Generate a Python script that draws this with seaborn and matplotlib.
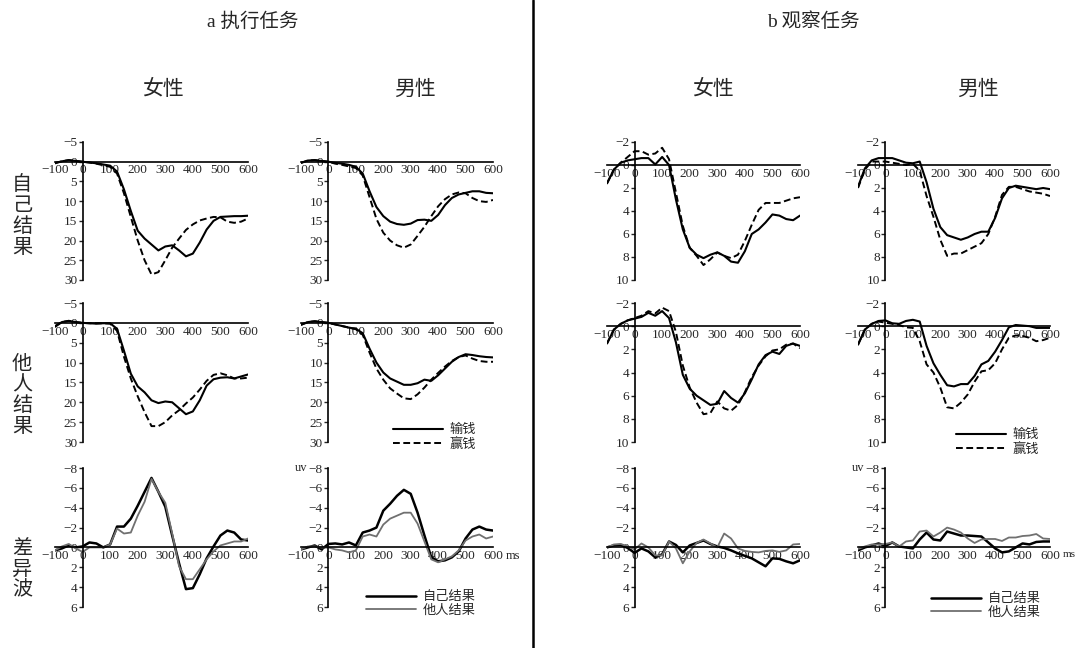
import pandas as pd
import matplotlib
matplotlib.use('Agg')
import matplotlib.pyplot as plt
import seaborn as sns
from matplotlib.lines import Line2D

# time axis (ms), read every 25 ms
time_ms = [-100, -75, -50, -25, 0, 25, 50, 75, 100, 125, 150, 175, 200, 225, 250,
           275, 300, 325, 350, 375, 400, 425, 450, 475, 500, 525, 550, 575, 600]

# a 执行任务 - 女性
exec_f_self_lose = [0.4, -0.1, -0.4, -0.2, 0, 0.2, 0.4, 0.7, 1.0, 2.5, 7.0, 12.5, 17.5, 19.5, 21.0,
                    22.5, 21.5, 21.2, 22.5, 24.0, 23.3, 20.5, 17.2, 15.0, 14.0, 13.9, 13.8, 13.8, 13.7]
exec_f_self_win = [0.3, -0.1, -0.4, -0.2, 0, 0.2, 0.5, 0.9, 1.3, 3.0, 8.0, 14.0, 20.0, 25.0, 28.6,
                   28.0, 25.0, 21.8, 19.5, 17.3, 15.9, 14.9, 14.4, 14.0, 14.1, 15.2, 15.5, 15.2, 14.4]
exec_f_other_lose = [1.0, -0.2, -0.5, -0.2, 0, 0.1, 0.2, 0.1, 0.1, 1.5, 7.0, 12.8, 16.0, 17.5, 19.5,
                     20.2, 19.8, 20.0, 21.5, 23.0, 22.3, 19.5, 15.8, 14.2, 13.8, 13.7, 14.0, 13.5, 13.0]
exec_f_other_win = [0.8, -0.2, -0.5, -0.2, 0, 0.1, 0.1, 0.1, 0.2, 2.0, 8.5, 14.0, 18.5, 22.5, 26.0,
                    26.0, 25.0, 23.3, 22.0, 20.3, 18.8, 16.8, 14.6, 13.1, 12.7, 13.2, 14.0, 14.0, 13.8]
# a 执行任务 - 男性
exec_m_self_lose = [0.3, -0.3, -0.4, -0.2, 0, 0.3, 0.5, 0.8, 1.3, 3.0, 7.5, 11.5, 13.8, 15.2, 15.8,
                    16.0, 15.7, 14.8, 14.7, 15.0, 13.5, 11.0, 9.2, 8.3, 7.9, 7.5, 7.5, 7.9, 8.0]
exec_m_self_win = [0.3, -0.3, -0.4, -0.2, 0, 0.5, 0.8, 1.2, 1.6, 3.5, 9.0, 14.5, 18.0, 20.0, 21.2,
                   21.8, 21.0, 18.8, 16.5, 13.8, 11.3, 9.5, 8.3, 7.8, 8.0, 9.2, 10.0, 10.2, 9.7]
exec_m_other_lose = [0.5, -0.2, -0.4, -0.2, 0, 0.4, 0.8, 1.2, 1.5, 2.6, 6.5, 10.0, 12.5, 14.0, 14.8,
                     15.6, 15.6, 15.2, 14.3, 14.6, 13.2, 11.5, 9.8, 8.6, 7.9, 8.1, 8.4, 8.6, 8.7]
exec_m_other_win = [0.5, -0.2, -0.4, -0.2, 0, 0.4, 0.8, 1.2, 1.6, 3.0, 7.5, 11.5, 14.3, 16.5, 17.8,
                    19.0, 19.2, 18.0, 16.3, 14.3, 12.6, 11.0, 9.6, 8.6, 8.2, 9.0, 9.6, 9.8, 9.8]

# b 观察任务 - 女性
obs_f_self_lose = [1.6, 0.4, -0.2, -0.4, -0.5, -0.6, -0.6, -0.05, -0.7, 0.0, 3.0, 5.6, 7.2, 7.8, 8.1,
                   7.8, 7.6, 7.9, 8.4, 8.5, 7.5, 6.0, 5.6, 5.0, 4.3, 4.4, 4.7, 4.8, 4.4]
obs_f_self_win = [1.6, 0.4, -0.2, -0.7, -1.2, -1.2, -0.9, -1.0, -1.5, -0.5, 2.4, 5.3, 7.2, 7.9, 8.7,
                  8.2, 7.6, 7.9, 8.1, 7.8, 6.6, 5.2, 3.9, 3.3, 3.3, 3.3, 3.1, 2.9, 2.8]
obs_f_other_lose = [1.5, 0.3, -0.2, -0.5, -0.65, -0.8, -1.15, -0.9, -1.3, -0.7, 1.4, 4.2, 5.4, 6.0, 6.4,
                    6.8, 6.7, 5.6, 6.2, 6.6, 5.8, 4.6, 3.3, 2.5, 2.2, 2.4, 1.7, 1.5, 1.7]
obs_f_other_win = [1.5, 0.3, -0.2, -0.5, -0.7, -0.9, -1.3, -1.1, -1.6, -1.3, 0.5, 3.4, 5.3, 6.6, 7.6,
                   7.5, 6.5, 7.1, 7.3, 6.8, 5.7, 4.4, 3.4, 2.6, 2.1, 2.0, 1.6, 1.5, 1.9]
# b 观察任务 - 男性
obs_m_self_lose = [1.9, 0.3, -0.4, -0.6, -0.6, -0.6, -0.4, -0.2, -0.15, -0.3, 1.5, 3.8, 5.4, 6.1, 6.3,
                   6.5, 6.3, 6.0, 5.8, 5.8, 4.6, 2.9, 2.0, 1.8, 1.9, 2.0, 2.1, 2.0, 2.1]
obs_m_self_win = [2.0, 0.4, -0.3, -0.3, -0.3, -0.2, -0.1, 0.0, -0.1, 0.5, 2.7, 4.5, 6.5, 7.9, 7.7,
                  7.7, 7.4, 7.1, 6.8, 6.0, 4.5, 2.6, 1.9, 1.9, 2.1, 2.3, 2.4, 2.5, 2.7]
obs_m_other_lose = [1.6, 0.3, -0.2, -0.45, -0.5, -0.25, -0.2, -0.45, -0.55, -0.4, 1.7, 3.2, 4.2, 5.1, 5.2,
                    5.0, 5.0, 4.3, 3.3, 3.0, 2.2, 1.2, 0.1, -0.1, -0.05, 0.0, 0.15, 0.15, 0.15]
obs_m_other_win = [1.6, 0.3, -0.2, -0.4, -0.3, -0.2, -0.1, 0.1, 0.15, 1.3, 3.3, 4.0, 5.3, 7.0, 7.1,
                   6.6, 5.9, 4.8, 3.9, 3.8, 3.2, 2.0, 1.0, 0.8, 0.85, 1.0, 1.3, 1.2, 1.0]

# difference waves (自己结果 / 他人结果)
exec_f_diff_self = [0.3, 0.1, -0.2, 0.0, -0.1, -0.5, -0.4, 0.0, -0.3, -2.1, -2.1, -2.9, -4.2, -5.6, -7.0,
                    -5.6, -4.1, -1.2, 1.6, 4.2, 4.1, 2.7, 1.1, -0.1, -1.2, -1.7, -1.5, -0.8, -0.7]
exec_f_diff_other = [0.3, -0.1, -0.35, 0.1, 0.45, 0.0, 0.0, 0.0, -0.3, -1.9, -1.4, -1.5, -3.2, -4.6, -6.9,
                     -5.6, -4.5, -1.4, 1.9, 3.2, 3.2, 2.2, 1.2, 0.4, -0.2, -0.4, -0.6, -0.6, -0.9]
exec_m_diff_self = [0.2, 0.0, -0.2, 0.2, -0.35, -0.4, -0.3, -0.5, -0.2, -1.5, -1.7, -2.0, -3.7, -4.4, -5.2,
                    -5.8, -5.4, -3.5, -1.2, 1.0, 1.4, 1.3, 1.0, 0.4, -0.9, -1.8, -2.1, -1.8, -1.7]
exec_m_diff_other = [0.2, -0.1, -0.1, 0.0, 0.0, 0.2, 0.3, 0.5, 0.3, -1.1, -1.3, -1.1, -2.3, -2.9, -3.2,
                     -3.5, -3.5, -2.4, -0.6, 1.2, 1.5, 1.2, 0.9, 0.3, -0.7, -1.1, -1.3, -0.9, -1.1]
obs_f_diff_self = [0.0, -0.2, -0.25, 0.05, 0.55, 0.1, 0.4, 1.0, 0.7, -0.6, -0.25, 0.5, -0.2, -0.45, -0.7,
                   -0.35, -0.1, 0.05, 0.3, 0.6, 0.85, 1.1, 1.5, 1.9, 1.1, 1.15, 1.4, 1.6, 1.3]
obs_f_diff_other = [0.0, -0.3, -0.35, -0.1, 0.2, -0.4, 0.0, 0.8, 0.8, -0.6, 0.1, 1.6, 0.4, -0.45, -0.8,
                    -0.4, 0.0, -1.4, -0.9, 0.1, 0.35, 0.45, 0.5, 0.35, 0.3, 0.45, 0.3, -0.3, -0.35]
obs_m_diff_self = [0.3, 0.0, -0.2, -0.4, -0.15, -0.5, -0.1, 0.0, 0.1, -0.8, -1.5, -0.8, -0.7, -1.6, -1.4,
                   -1.2, -1.2, -1.15, -1.1, -0.5, 0.1, 0.5, 0.4, 0.0, -0.4, -0.3, -0.55, -0.6, -0.6]
obs_m_diff_other = [0.15, -0.1, -0.3, -0.3, -0.35, -0.5, -0.1, -0.6, -0.7, -1.6, -1.7, -1.1, -1.5, -2.0, -1.8,
                    -1.5, -0.9, -0.45, -0.8, -0.85, -0.85, -0.65, -1.0, -1.0, -1.15, -1.2, -1.35, -0.9, -0.85]

sns.set_style('white')
plt.rcParams['font.family'] = ['Liberation Serif', 'Noto Sans CJK SC']
plt.rcParams['axes.unicode_minus'] = True

W, H = 1075, 648
fig = plt.figure(figsize=(W / 100, H / 100), dpi=100)

# pixel boxes of the axes (x=-100..600, full y range)
col_px = [(55, 248), (301, 493), (607, 800), (858, 1050)]
row_px = [(142, 280), (303, 442), (468, 607)]

LOSE = ('black', '-', 1.5)
WIN = ('black', (0, (3.5, 1.8)), 1.4)
SELF = ('black', '-', 1.8)
OTHER = ('#707070', '-', 1.3)


def erp_panel(r, c, series, styles, ylim, yticks):
    l, rr = col_px[c]
    t, b = row_px[r]
    ax = fig.add_axes([l / W, 1 - b / H, (rr - l) / W, (b - t) / H])
    ax.patch.set_alpha(0)
    for y, (color, ls, lw) in zip(series, styles):
        df = pd.DataFrame({'time': time_ms, 'amp': y})
        sns.lineplot(data=df, x='time', y='amp', ax=ax, color=color,
                     linestyle=ls, linewidth=lw, legend=False)
    ax.set_xlim(-100, 600)
    ax.set_ylim(ylim)
    ax.set_xticks(range(-100, 601, 100))
    ax.set_yticks(yticks)
    ax.set_xlabel('')
    ax.set_ylabel('')
    ax.spines['left'].set_position(('data', 0))
    ax.spines['bottom'].set_position(('data', 0))
    ax.spines['top'].set_visible(False)
    ax.spines['right'].set_visible(False)
    for s in ['left', 'bottom']:
        ax.spines[s].set_color('black')
        ax.spines[s].set_linewidth(1.2)
    ax.tick_params(axis='x', length=0, pad=2, labelsize=9.5)
    ax.tick_params(axis='y', left=True, length=3, width=1, direction='out', pad=1, labelsize=9.5)
    return ax


def add_legend(ax, labels, x_px, y_px):
    ax.legend(ax.get_lines()[:2], labels, loc='upper left',
              bbox_to_anchor=(x_px / W, 1 - y_px / H), bbox_transform=fig.transFigure,
              frameon=False, fontsize=9.5, handlelength=3.8, handletextpad=0.5,
              labelspacing=0.12, borderpad=0, borderaxespad=0)


def unit_labels(ax, ms_size):
    ax.annotate('uv', xy=(-100, -8), xytext=(0, 0), textcoords='offset points',
                ha='center', va='center', fontsize=9, annotation_clip=False)
    ax.annotate('ms', xy=(600, 0), xytext=(9.5, -2), textcoords='offset points',
                ha='left', va='top', fontsize=ms_size, annotation_clip=False)


erp_yl = (30, -5)
erp_yt = range(-5, 31, 5)
obs_yl = (10, -2)
obs_yt = range(-2, 11, 2)
diff_yl = (6, -8)
diff_yt = range(-8, 7, 2)

erp_panel(0, 0, [exec_f_self_lose, exec_f_self_win], [LOSE, WIN], erp_yl, erp_yt)
erp_panel(0, 1, [exec_m_self_lose, exec_m_self_win], [LOSE, WIN], erp_yl, erp_yt)
erp_panel(0, 2, [obs_f_self_lose, obs_f_self_win], [LOSE, WIN], obs_yl, obs_yt)
erp_panel(0, 3, [obs_m_self_lose, obs_m_self_win], [LOSE, WIN], obs_yl, obs_yt)

erp_panel(1, 0, [exec_f_other_lose, exec_f_other_win], [LOSE, WIN], erp_yl, erp_yt)
ax = erp_panel(1, 1, [exec_m_other_lose, exec_m_other_win], [LOSE, WIN], erp_yl, erp_yt)
add_legend(ax, ['输钱', '赢钱'], 393, 424)
erp_panel(1, 2, [obs_f_other_lose, obs_f_other_win], [LOSE, WIN], obs_yl, obs_yt)
ax = erp_panel(1, 3, [obs_m_other_lose, obs_m_other_win], [LOSE, WIN], obs_yl, obs_yt)
add_legend(ax, ['输钱', '赢钱'], 956, 429)

erp_panel(2, 0, [exec_f_diff_self, exec_f_diff_other], [SELF, OTHER], diff_yl, diff_yt)
ax = erp_panel(2, 1, [exec_m_diff_self, exec_m_diff_other], [SELF, OTHER], diff_yl, diff_yt)
add_legend(ax, ['自己结果', '他人结果'], 366, 591)
unit_labels(ax, 9)
erp_panel(2, 2, [obs_f_diff_self, obs_f_diff_other], [SELF, OTHER], diff_yl, diff_yt)
ax = erp_panel(2, 3, [obs_m_diff_self, obs_m_diff_other], [SELF, OTHER], diff_yl, diff_yt)
add_legend(ax, ['自己结果', '他人结果'], 931, 593)
unit_labels(ax, 8)

# titles
fig.text(253 / W, 1 - 22 / H, 'a 执行任务', ha='center', va='center', fontsize=14)
fig.text(813 / W, 1 - 22 / H, 'b 观察任务', ha='center', va='center', fontsize=14)
for x_px, g in zip([163, 415, 713, 978], ['女性', '男性', '女性', '男性']):
    fig.text(x_px / W, 1 - 90 / H, g, ha='center', va='center', fontsize=15)

# row labels, stacked vertically
for y_px, lab in zip([217, 396, 570], ['自己结果', '他人结果', '差异波']):
    fig.text(22 / W, 1 - y_px / H, '\n'.join(lab), ha='center', va='center',
             fontsize=14.5, linespacing=1.12)

# divider between the two tasks
fig.add_artist(Line2D([533 / W, 533 / W], [0, 1], color='black', lw=1.8,
                      transform=fig.transFigure))

fig.savefig('out.png', dpi=100)
